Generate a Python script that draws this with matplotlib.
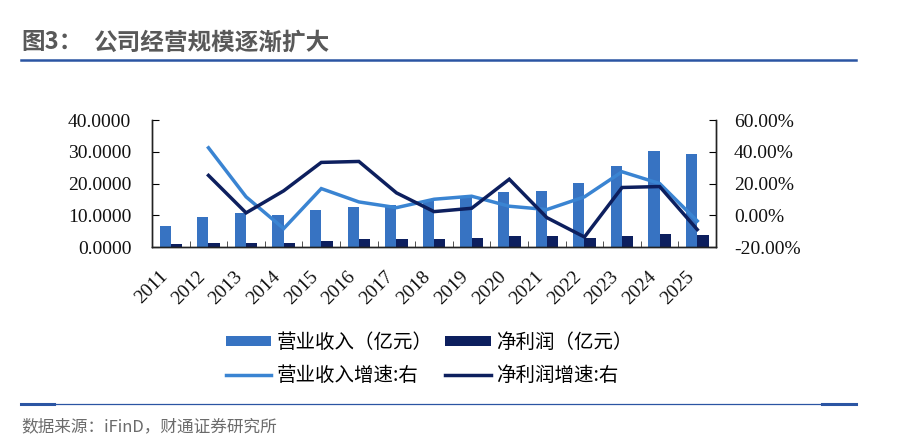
import numpy as np
import matplotlib
matplotlib.use("Agg")
import matplotlib.pyplot as plt
from matplotlib.lines import Line2D
from matplotlib.ticker import FuncFormatter, FixedLocator

plt.rcParams['font.family'] = ['Noto Sans CJK SC', 'DejaVu Sans']

# data
years = ['2011', '2012', '2013', '2014', '2015', '2016', '2017', '2018',
         '2019', '2020', '2021', '2022', '2023', '2024', '2025']
revenue = [6.6, 9.6, 10.7, 10.0, 11.8, 12.6, 13.2, 14.6,
           16.1, 17.3, 17.8, 20.1, 25.4, 30.2, 29.2]
profit = [0.85, 1.2, 1.2, 1.4, 1.8, 2.4, 2.6, 2.6,
          2.8, 3.4, 3.4, 2.9, 3.4, 4.0, 3.7]
# growth rates (%) start from 2012
rev_growth = [42.5, 11.6, -8.4, 16.8, 8.4, 4.8, 10.1, 12.0,
              5.7, 3.6, 11.6, 27.4, 20.0, -3.6]
profit_growth = [25.1, 1.5, 15.4, 33.3, 33.9, 14.1, 2.3, 4.4,
                 22.7, -1.5, -13.7, 17.5, 18.1, -9.0]

C_REV = '#3773c2'
C_PROFIT = '#0d1f5e'
C_REV_LINE = '#3a84d2'
C_GRAY = '#595959'
C_RULE = '#2b55a3'

fig = plt.figure(figsize=(9, 4.47), dpi=100)
ax = fig.add_axes([0.169, 0.4474, 0.6266, 0.2841])
ax2 = ax.twinx()

x = np.arange(len(years))
w = 0.3
b1 = ax.bar(x - w / 2, revenue, w, color=C_REV, zorder=2)
b2 = ax.bar(x + w / 2, profit, w, color=C_PROFIT, zorder=2)
l1, = ax2.plot(x[1:], rev_growth, color=C_REV_LINE, lw=2.5, solid_joinstyle='miter')
l2, = ax2.plot(x[1:], profit_growth, color=C_PROFIT, lw=2.5, solid_joinstyle='miter')

ax.set_xlim(-0.5, len(years) - 0.5)
ax.set_ylim(0, 40)
ax.set_yticks([0, 10, 20, 30, 40])
ax.yaxis.set_major_formatter(FuncFormatter(lambda v, p: f'{v:.4f}'))
ax2.set_ylim(-20, 60)
ax2.set_yticks([-20, 0, 20, 40, 60])
ax2.yaxis.set_major_formatter(FuncFormatter(lambda v, p: f'{v:.2f}%'))

ax.set_xticks(x)
ax.set_xticklabels(years, rotation=45, ha='right')
ax.xaxis.set_minor_locator(FixedLocator(np.arange(0.5, len(years) - 0.5, 1)))
ax.tick_params(axis='x', which='major', length=0, pad=15)
ax.tick_params(axis='x', which='minor', direction='in', length=4, color='#333333')

serif = 'Liberation Serif'
for lab in ax.get_xticklabels() + ax.get_yticklabels() + ax2.get_yticklabels():
    lab.set_family(serif)
    lab.set_fontsize(14)
    lab.set_color('#111111')

ax.tick_params(axis='y', direction='in', length=5, pad=15)
ax2.tick_params(axis='y', direction='in', length=5, pad=13)

for a in (ax, ax2):
    a.spines['top'].set_visible(False)
    for s in ('left', 'right', 'bottom'):
        a.spines[s].set_color('#222222')
        a.spines[s].set_linewidth(1.0)

fig.legend([b1, l1, b2, l2],
           ['营业收入（亿元）', '营业收入增速:右', '净利润（亿元）', '净利润增速:右'],
           ncol=2, loc='center', bbox_to_anchor=(0.477, 0.197), frameon=False,
           fontsize=14, handlelength=2.35, handleheight=0.45, handletextpad=0.3,
           columnspacing=0.6, labelspacing=0.6)

# header and footer
fig.text(0.024, 0.905, '图3：', fontsize=17, fontweight='bold', color=C_GRAY, va='center')
fig.text(0.104, 0.905, '公司经营规模逐渐扩大', fontsize=17, fontweight='bold',
         color=C_GRAY, va='center')
fig.add_artist(Line2D([0.0233, 0.951], [0.865, 0.865], color=C_RULE, lw=1.8))
fig.add_artist(Line2D([0.0233, 0.951], [0.096, 0.096], color=C_RULE, lw=0.9))
fig.add_artist(Line2D([0.0233, 0.06], [0.096, 0.096], color=C_RULE, lw=2.2))
fig.add_artist(Line2D([0.913, 0.951], [0.096, 0.096], color=C_RULE, lw=2.2))
fig.text(0.024, 0.045, '数据来源：iFinD，财通证券研究所', fontsize=12, color='#6b6b6b',
         va='center')

fig.savefig('out.png', dpi=100)
